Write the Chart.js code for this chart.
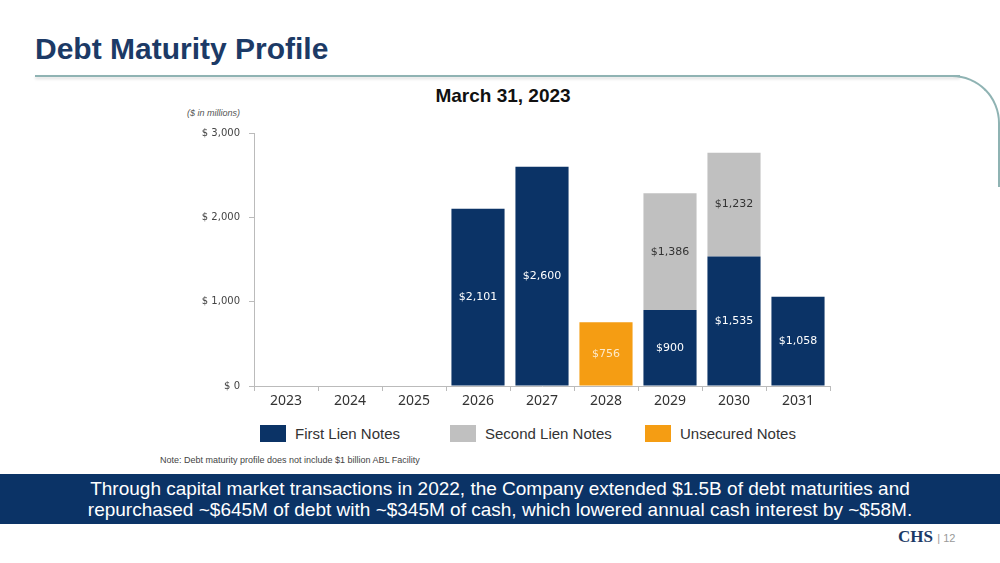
<!DOCTYPE html>
<html>
<head>
<meta charset="utf-8">
<script src="https://cdn.jsdelivr.net/npm/chart.js@4"></script>
<style>
  body { margin: 0; width: 1000px; height: 563px; background: #fff; position: relative; overflow: hidden; font-family: "Liberation Sans", Arial, sans-serif; }
  .abs { position: absolute; }
  #title { left: 35px; top: 32px; font-size: 30px; font-weight: bold; color: #1c3a66; }
  #rule { left: 35px; top: 75px; width: 925px; height: 2px; background: #8fb3b3; box-shadow: 0 2px 3px rgba(0,0,0,0.15); }
  #curve { left: 940px; top: 75px; width: 60px; height: 112px; border-top: 2px solid #8fb3b3; border-right: 2px solid #8fb3b3; border-top-right-radius: 48px; box-sizing: border-box; }
  #sub { left: 0; width: 1006px; top: 85px; text-align: center; font-weight: bold; font-size: 19px; color: #111; }
  #unit { left: 187px; top: 108px; font-size: 9px; font-style: italic; color: #555; }
  #chartBox { left: 180px; top: 118px; width: 660px; height: 307px; }
  .leg { top: 425px; color: #333; display: flex; align-items: center; font-size: 15px; }
  .leg span.box { display: inline-block; width: 26px; height: 17px; margin-right: 9px; }
  #note { left: 160px; top: 455px; font-size: 9px; color: #444; }
  #banner { left: 0; top: 474px; width: 1000px; height: 50px; background: #0b3366; color: #fff; text-align: center; font-size: 19px; line-height: 21px; padding-top: 4px; box-sizing: border-box; }
  #foot { left: 898px; top: 527px; font-size: 17px; color: #1c3a66; font-family: "Liberation Serif", serif; }
  #foot small { color: #999; font-size: 11px; font-family: "Liberation Sans", sans-serif; }
</style>
</head>
<body>
<div id="title" class="abs">Debt Maturity Profile</div>
<div id="rule" class="abs"></div>
<div id="curve" class="abs"></div>
<div id="sub" class="abs">March 31, 2023</div>
<div id="unit" class="abs">($ in millions)</div>
<div id="chartBox" class="abs"><canvas id="debtChart"></canvas></div>
<div class="abs leg" style="left:260px"><span class="box" style="background:#0b3366"></span>First Lien Notes</div>
<div class="abs leg" style="left:450px"><span class="box" style="background:#c0c0c0"></span>Second Lien Notes</div>
<div class="abs leg" style="left:645px"><span class="box" style="background:#f59d13"></span>Unsecured Notes</div>
<div id="note" class="abs">Note: Debt maturity profile does not include $1 billion ABL Facility</div>
<div id="banner" class="abs">Through capital market transactions in 2022, the Company extended $1.5B of debt maturities and<br>repurchased ~$645M of debt with ~$345M of cash, which lowered annual cash interest by ~$58M.</div>
<div id="foot" class="abs"><b>CHS</b> <small>| 12</small></div>

<script>
// Maturity years and amounts ($ in millions)
const years = ["2023", "2024", "2025", "2026", "2027", "2028", "2029", "2030", "2031"];
const firstLien = [null, null, null, 2101, 2600, null, 900, 1535, 1058];
const secondLien = [null, null, null, null, null, null, 1386, 1232, null];
const unsecured = [null, null, null, null, null, 756, null, null, null];
const yTicks = [0, 1000, 2000, 3000];

const labelColors = ["#ffffff", "#333333", "#fde9c8"];

// Draw the value in the middle of each bar segment
const barLabels = {
  id: "barLabels",
  afterDatasetsDraw(chart) {
    const c = chart.ctx;
    c.save();
    c.font = "11px 'DejaVu Sans', sans-serif";
    c.textAlign = "center";
    c.textBaseline = "middle";
    chart.data.datasets.forEach((ds, i) => {
      chart.getDatasetMeta(i).data.forEach((bar, j) => {
        const v = ds.data[j];
        if (v == null) return;
        c.fillStyle = labelColors[i];
        c.fillText("$" + v.toLocaleString("en-US"), bar.x, (bar.y + bar.base) / 2);
      });
    });
    c.restore();
  }
};

new Chart(document.getElementById("debtChart"), {
  type: "bar",
  data: {
    labels: years,
    datasets: [
      { label: "First Lien Notes", data: firstLien, backgroundColor: "#0b3366" },
      { label: "Second Lien Notes", data: secondLien, backgroundColor: "#c0c0c0" },
      { label: "Unsecured Notes", data: unsecured, backgroundColor: "#f59d13" }
    ]
  },
  options: {
    responsive: true,
    maintainAspectRatio: false,
    animation: false,
    layout: { padding: { top: 0, right: 10 } },
    datasets: { bar: { categoryPercentage: 1, barPercentage: 0.83, borderWidth: 0 } },
    plugins: { legend: { display: false }, tooltip: { enabled: false } },
    scales: {
      x: {
        stacked: true,
        grid: { offset: true, drawOnChartArea: false, tickLength: 5, color: "#bbb" },
        border: { color: "#bbb" },
        ticks: { color: "#333", font: { family: "'Noto Sans', sans-serif", size: 14 }, padding: 2 },
        afterFit: s => { s.height = 39; }
      },
      y: {
        stacked: true,
        min: 0,
        max: 3000,
        afterBuildTicks: s => { s.ticks = yTicks.map(v => ({ value: v })); },
        grid: { drawOnChartArea: false, tickLength: 5, color: "#bbb" },
        border: { color: "#bbb" },
        ticks: {
          color: "#444",
          font: { family: "'DejaVu Sans', sans-serif", size: 10 },
          padding: 9,
          callback: v => "$ " + v.toLocaleString("en-US")
        },
        afterFit: s => { s.width = 74; }
      }
    }
  },
  plugins: [barLabels]
});
</script>
</body>
</html>
